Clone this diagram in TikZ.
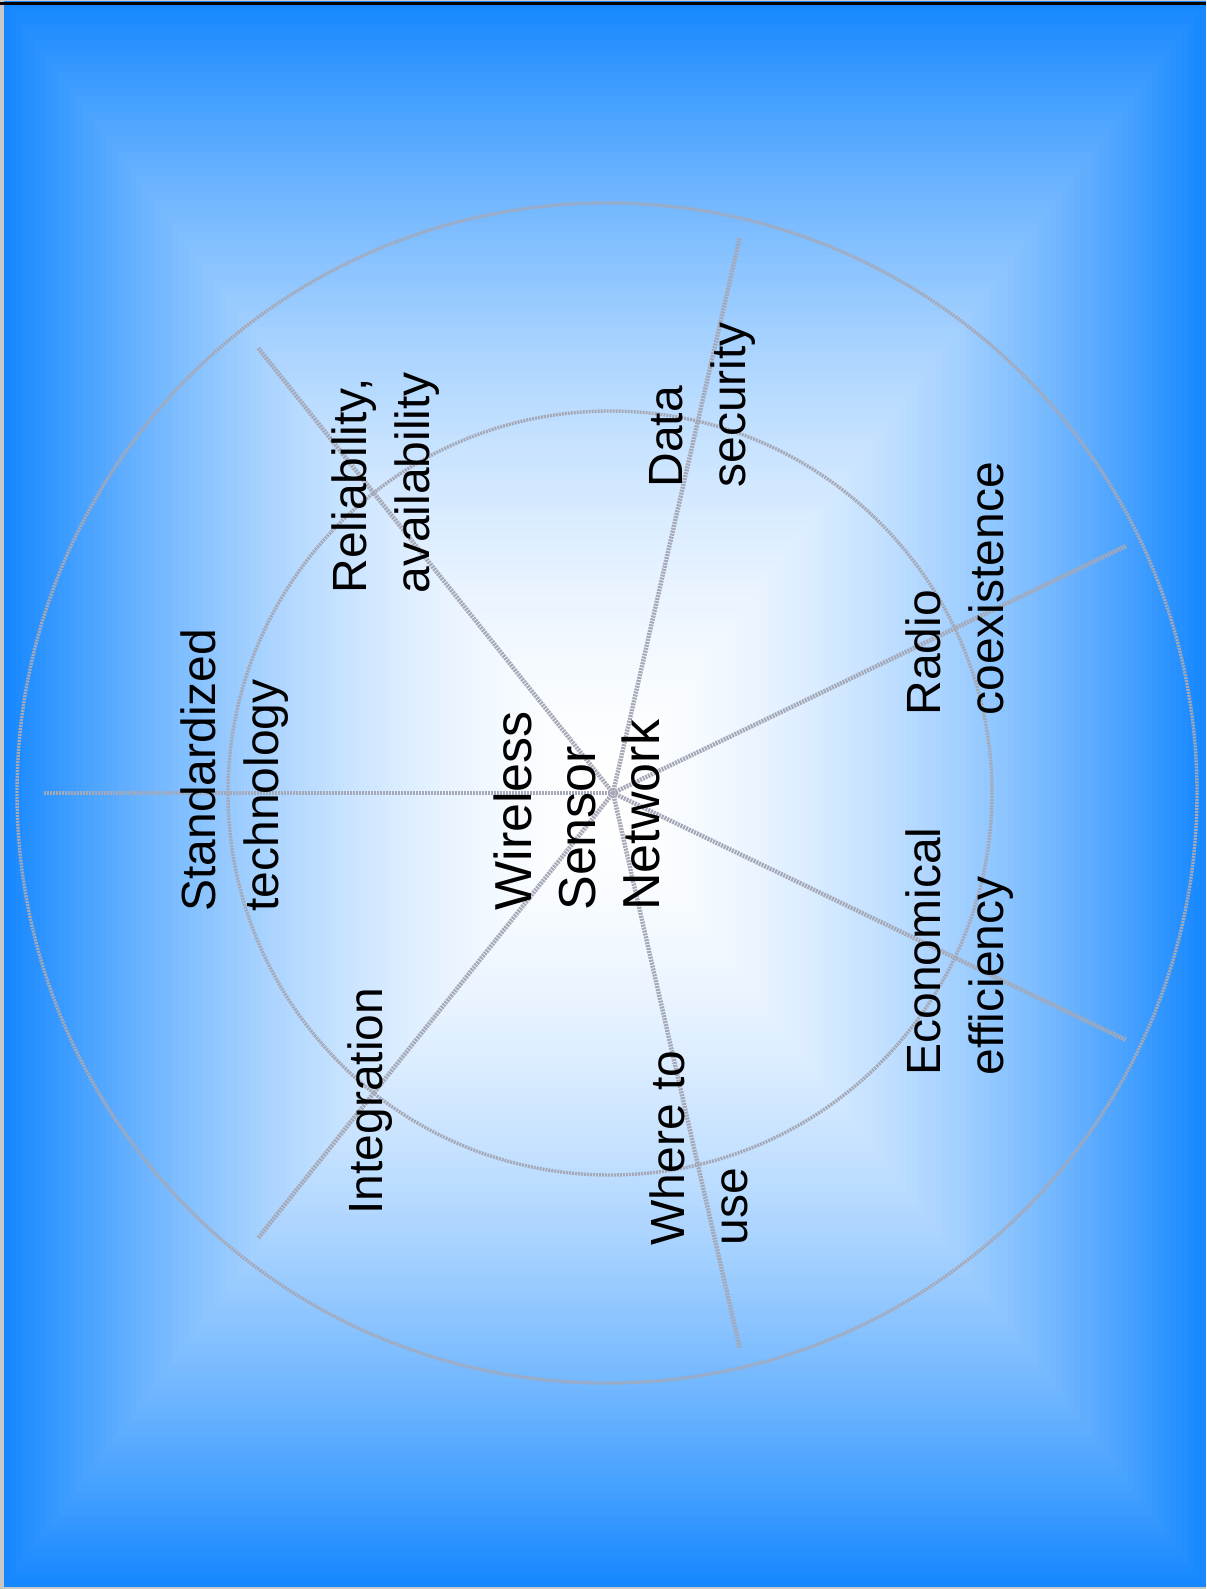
\documentclass[tikz,border=0pt]{standalone}
\usepackage{fontspec}
\setmainfont{Liberation Sans}
\usepackage{tikz}
\usetikzlibrary{calc}
\definecolor{bgblue}{RGB}{22,136,255}
\definecolor{linegray}{RGB}{165,168,182}
\tikzset{
  spoke/.style={draw=linegray, line width=2.2pt, dash pattern=on 1pt off 0.5pt},
  ring/.style={draw=linegray, line width=1.7pt, dash pattern=on 1pt off 0.5pt},
  topic/.style={rotate=90, align=left, anchor=north west, inner sep=0pt,
    font=\fontsize{24}{31.5}\selectfont},
  hubtext/.style={topic, font=\fontsize{26}{32}\selectfont}
}
\begin{document}
\begin{tikzpicture}[x=0.5pt, y=-0.5pt]
  \useasboundingbox (0,0) rectangle (1206,1589);
  \fill[black!22] (0,0) rectangle (1206,1589);
  \foreach \i in {0,...,100}{
    \pgfmathsetmacro\t{1-\i/100}
    \pgfmathsetmacro\p{100*(\t)^1.75}
    \fill[bgblue!\p!white] ($(605,794)-(601*\t,793*\t)$) rectangle ($(605,794)+(601*\t,793*\t)$);
  }
  \fill[black] (0,2) rectangle (1206,5);

  \coordinate (hub) at (613,793);
  \draw[ring] (607,793) circle[radius=590];
  \draw[ring] (610,793) circle[radius=382];
  \foreach \k in {0,...,6}{
    \coordinate (tip\k) at ([shift={(180+\k*360/7:570)}]hub);
    \draw[spoke] (hub) -- (tip\k);
  }

  \node[hubtext] (wsn) at (493,911) {Wireless\\Sensor\\Network};
  \node[topic] (std) at (180,912) {Standardized\\technology};
  \node[topic] (rel) at (331,594) {Reliability,\\availability};
  \node[topic] (data) at (649,488) {Data\\security};
  \node[topic] (radio) at (905,716) {Radio\\coexistence};
  \node[topic] (econ) at (905,1076) {Economical\\efficiency};
  \node[topic] (where) at (649,1246) {Where to\\use};
  \node[topic] (integ) at (347,1215) {Integration};
\end{tikzpicture}
\end{document}
